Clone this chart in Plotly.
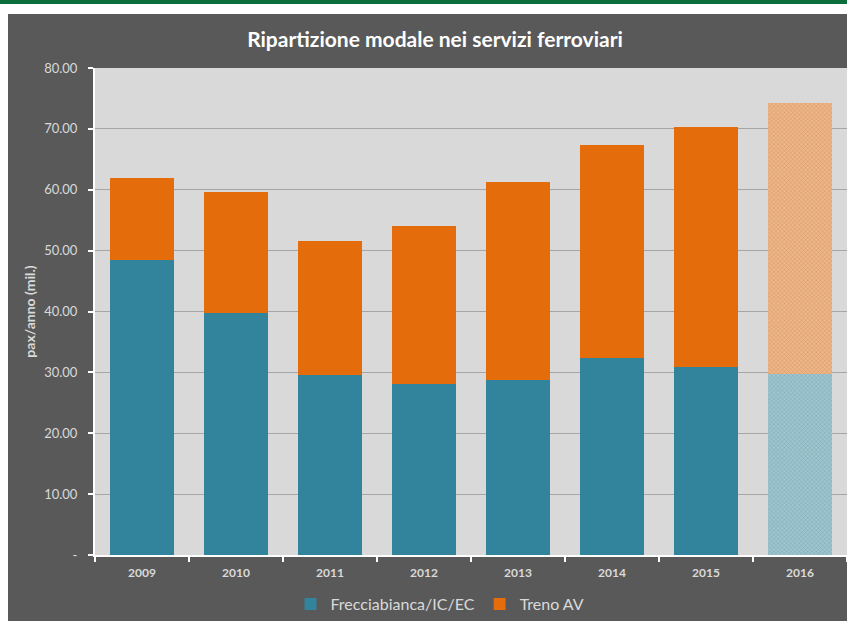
import plotly.graph_objects as go

years = ["2009", "2010", "2011", "2012", "2013", "2014", "2015", "2016"]
freccia = [48.5, 39.8, 29.5, 28.1, 28.8, 32.4, 30.9, 29.8]
treno_av_total = [61.9, 59.6, 51.6, 54.0, 61.2, 67.4, 70.3, 74.3]
treno_av = [round(t - f, 2) for t, f in zip(treno_av_total, freccia)]
y_ticks = [0, 10, 20, 30, 40, 50, 60, 70, 80]
y_tick_text = ["-", "10.00", "20.00", "30.00", "40.00", "50.00", "60.00", "70.00", "80.00"]

TEAL = "#31849b"
ORANGE = "#e46c0a"
TEAL_L = "#9bc5d0"
ORANGE_L = "#f2b583"

n = len(years)
teal_colors = [TEAL] * (n - 1) + [TEAL_L]
orange_colors = [ORANGE] * (n - 1) + [ORANGE_L]
shapes_pat = [""] * (n - 1) + ["x"]

fig = go.Figure()
fig.add_trace(go.Bar(
    x=years, y=freccia, name="Frecciabianca/IC/EC",
    marker=dict(color=teal_colors, line=dict(width=0),
                pattern=dict(shape=shapes_pat, fgcolor="#93bfcb", size=3, solidity=0.15)),
))
fig.add_trace(go.Bar(
    x=years, y=treno_av, name="Treno AV",
    marker=dict(color=orange_colors, line=dict(width=0),
                pattern=dict(shape=shapes_pat, fgcolor="#efaf7c", size=3, solidity=0.15)),
))

W, H = 847, 621
L, R, T, B = 95, 0, 68, 66
pw = W - L - R
ph = H - T - B

def px(x):
    return (x - L) / pw

def py(y):
    return (H - B - y) / ph

shapes = [
    dict(type="rect", xref="paper", yref="paper", x0=px(-5), x1=px(W + 5), y0=py(14), y1=py(-5),
         fillcolor="white", line=dict(width=0), layer="below"),
    dict(type="rect", xref="paper", yref="paper", x0=px(-5), x1=px(8), y0=py(H + 5), y1=py(-5),
         fillcolor="white", line=dict(width=0), layer="below"),
    dict(type="rect", xref="paper", yref="paper", x0=px(-5), x1=px(W + 5), y0=py(4), y1=py(-5),
         fillcolor="#0b6e3c", line=dict(width=0), layer="below"),
]

fig.update_layout(
    width=W, height=H,
    margin=dict(l=L, r=R, t=T, b=B),
    paper_bgcolor="#595959",
    plot_bgcolor="#d9d9d9",
    barmode="stack",
    bargap=0.32,
    font=dict(family="Lato, Open Sans, sans-serif", color="#d9d9d9", size=12),
    title=dict(text="<b>Ripartizione modale nei servizi ferroviari</b>",
               x=435 / W, xref="container", xanchor="center",
               y=1 - 40 / H, yanchor="middle",
               font=dict(size=21, color="white", family="Lato, sans-serif")),
    showlegend=True,
    legend=dict(orientation="h", x=440 / W, xref="container", xanchor="center",
                y=1 - 604 / H, yref="container", yanchor="middle",
                font=dict(size=16, color="#d9d9d9"), itemsizing="constant",
                traceorder="normal", itemwidth=30),
    shapes=shapes,
)

fig.update_xaxes(
    type="category",
    showline=True, linecolor="white", linewidth=2,
    ticks="outside", tickson="boundaries", tickcolor="white", ticklen=5, tickwidth=2,
    ticklabelstandoff=6,
    tickfont=dict(size=12, color="#d9d9d9", family="Lato, sans-serif", weight="bold"),
    showgrid=False,
)
fig.update_yaxes(
    range=[0, 80],
    tickvals=y_ticks, ticktext=y_tick_text,
    showline=True, linecolor="white", linewidth=2,
    ticks="outside", tickcolor="white", ticklen=5, tickwidth=2,
    ticklabelstandoff=8,
    showgrid=True, gridcolor="#a6a6a6", gridwidth=1,
    zeroline=False,
    tickfont=dict(size=13, color="#d9d9d9"),
    title=dict(text="<b>pax/anno (mil.)</b>", font=dict(size=14, color="#d9d9d9"), standoff=5),
)

fig.write_html("out.html", config={"displayModeBar": False},
               post_script="document.body.style.margin='0';")
